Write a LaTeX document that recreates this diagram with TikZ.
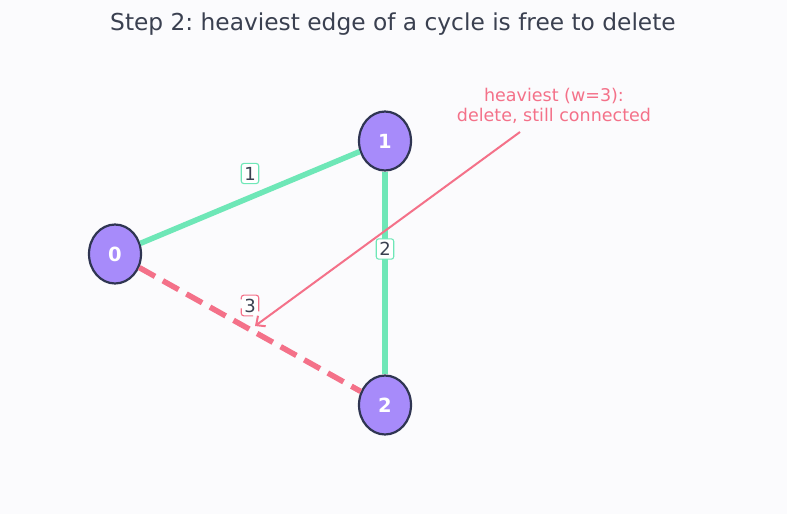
\documentclass[tikz,border=0pt]{standalone}
\usepackage{fontspec}
\setmainfont{DejaVu Sans}
\usetikzlibrary{shapes.geometric,arrows.meta}
\definecolor{bgcol}{HTML}{FBFBFD}
\definecolor{vfill}{HTML}{A78BFA}
\definecolor{vline}{HTML}{2F3552}
\definecolor{keep}{HTML}{6EE7B7}
\definecolor{heavy}{HTML}{F47189}
\definecolor{ink}{HTML}{3A4050}
\tikzset{
  vertex/.style={ellipse,draw=vline,line width=2.2pt,fill=vfill,minimum width=52pt,minimum height=59pt,inner sep=0pt,text=white,font=\fontsize{19.5}{19.5}\selectfont\bfseries},
  wlabel/.style={draw=#1,fill=white,rounded corners=2.5pt,inner xsep=3pt,inner ysep=3.5pt,line width=1.1pt,text=ink,font=\fontsize{18}{18}\selectfont},
  treeedge/.style={keep,line width=5.5pt},
  cutedge/.style={heavy,line width=5.5pt,dash pattern=on 18pt off 9pt}
}
\begin{document}
\frenchspacing
\begin{tikzpicture}[x=1pt,y=-1pt]
  \fill[bgcol] (0,0) rectangle (787,514);
  \useasboundingbox (0,0) rectangle (787,514);
  \node[text=ink,font=\fontsize{23.3}{24}\selectfont] (title) at (393,24) {Step 2: heaviest edge of a cycle is free to delete};
  % vertices
  \node[vertex] (n0) at (115,254) {0};
  \node[vertex] (n1) at (385,141) {1};
  \node[vertex] (n2) at (385,405) {2};
  % edges
  \draw[treeedge] (n0) -- (n1) node[midway,yshift=24pt,wlabel=keep] {1};
  \draw[treeedge] (n1) -- (n2) node[midway,yshift=24pt,wlabel=keep] {2};
  \draw[cutedge] (n0) -- (n2) node[midway,yshift=24pt,wlabel=heavy] {3};
  % note
  \node[text=heavy,align=center,font=\fontsize{17.5}{20}\selectfont] (note) at (554,106) {heaviest (w=3):\\delete, still connected};
  \coordinate (tail) at (520,132);
  \coordinate (tip) at (255,326);
  \draw[heavy,line width=2pt,-{Straight Barb[length=7pt,width=13pt]}] (tail) -- (tip);
\end{tikzpicture}
\end{document}
